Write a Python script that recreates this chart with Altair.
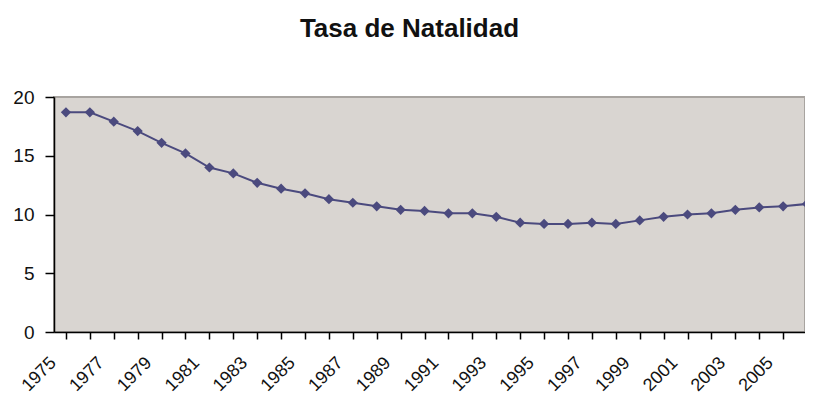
import altair as alt
import pandas as pd

years = list(range(1975, 2007))
tasa = [18.7, 18.7, 17.9, 17.1, 16.1, 15.2, 14.0, 13.5, 12.7, 12.2,
        11.8, 11.3, 11.0, 10.7, 10.4, 10.3, 10.1, 10.1, 9.8, 9.3,
        9.2, 9.2, 9.3, 9.2, 9.5, 9.8, 10.0, 10.1, 10.4, 10.6,
        10.7, 10.9]

df = pd.DataFrame({"anio": years, "tasa": tasa})

COLOR = "#4B4A7E"
FONT = "Liberation Sans"

x_enc = alt.X(
    "anio:O",
    title=None,
    scale=alt.Scale(range=[0, 765], paddingInner=0, paddingOuter=0),
    axis=alt.Axis(
        bandPosition=0,
        labelExpr="datum.value % 2 == 1 ? datum.label : ''",
        labelAngle=-45,
        labelAlign="right",
        labelBaseline="middle",
        labelOffset=-13,
        labelPadding=21,
        labelFont=FONT,
        labelFontSize=18,
        labelColor="#111111",
        tickSize=7,
        tickColor="#000000",
        tickWidth=1.5,
        domainColor="#000000",
        domainWidth=1.5,
        grid=False,
        labelOverlap=False,
    ),
)

y_enc = alt.Y(
    "tasa:Q",
    title=None,
    scale=alt.Scale(domain=[0, 20], nice=False),
    axis=alt.Axis(
        values=[0, 5, 10, 15, 20],
        labelFont=FONT,
        labelFontSize=19,
        labelColor="#111111",
        labelPadding=11,
        tickSize=9,
        tickColor="#000000",
        tickWidth=1.5,
        domainColor="#000000",
        domainWidth=1.5,
        grid=False,
    ),
)

line = alt.Chart(df).mark_line(color=COLOR, strokeWidth=2).encode(x=x_enc, y=y_enc)
points = alt.Chart(df).mark_point(
    shape="diamond", filled=True, size=105, color=COLOR, opacity=1
).encode(x=x_enc, y=y_enc)

chart = (
    alt.layer(line, points)
    .properties(
        width=751,
        height=235,
        autosize=alt.AutoSizeParams(type="none"),
        padding={"left": 46, "top": 89, "right": 0, "bottom": 63},
        title=alt.Title(
            "Tasa de Natalidad",
            font=FONT,
            fontSize=26,
            fontWeight="bold",
            color="#111111",
            anchor="middle",
            offset=46,
            dx=-20,
        ),
    )
    .configure_view(fill="#D9D5D1", stroke="#A8A4A0", strokeWidth=2)
)

chart.save("out.html", embed_options={"renderer": "svg", "actions": False})
